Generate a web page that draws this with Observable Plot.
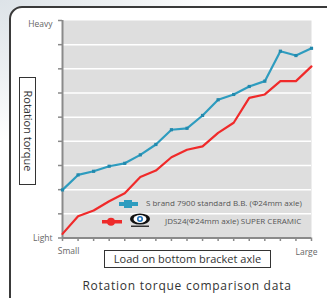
<!DOCTYPE html>
<html><head><meta charset="utf-8">
<script src="https://cdn.jsdelivr.net/npm/d3@7"></script>
<script src="https://cdn.jsdelivr.net/npm/@observablehq/plot@0.6"></script>
<style>
html,body{margin:0;padding:0;}
body{width:327px;height:298px;overflow:hidden;font-family:"Open Sans",sans-serif;}
#wrap{position:relative;width:327px;height:298px;background:radial-gradient(ellipse 220px 140px at 0px 0px,#dde3e8 0%,#eef1f3 55%,#ffffff 100%);}
#frame{position:absolute;left:9px;top:6px;width:330px;height:300px;border:2px solid #3a3a3a;border-top-left-radius:13px;background:#fff;box-sizing:border-box;}
#chart{position:absolute;left:0;top:0;}
.box{position:absolute;border:1px solid #333;background:#fff;color:#333;box-sizing:border-box;font-size:11px;white-space:nowrap;}
#ybox{left:19px;top:77px;width:17px;height:108px;}
#ybox span{position:absolute;left:50%;top:50%;transform:translate(-50%,-50%) rotate(90deg);}
#xbox{left:104px;top:250px;width:167px;height:18px;text-align:center;line-height:16px;}
#title{position:absolute;left:0;width:374px;top:277px;text-align:center;font-size:12px;color:#333;letter-spacing:0.75px;}
.leg{position:absolute;font-size:8px;color:#555;white-space:nowrap;}
</style></head>
<body>
<div id="wrap">
  <div id="frame"></div>
  <div id="chart"></div>
  <div class="box" id="ybox"><span>Rotation torque</span></div>
  <div class="box" id="xbox">Load on bottom bracket axle</div>
  <div id="title">Rotation torque comparison data</div>
  <svg style="position:absolute;left:100px;top:197px" width="60" height="32">
    <rect x="19" y="5" width="19" height="4" fill="#2e9cbf"/>
    <rect x="24" y="3" width="8" height="8" fill="#2e9cbf"/>
    <rect x="2" y="23" width="20" height="3.5" fill="#ee2b2b"/>
    <circle cx="11" cy="24.7" r="4" fill="#ee2b2b"/>
    <ellipse cx="40" cy="22" rx="10" ry="5.5" fill="#111"/>
    <ellipse cx="40" cy="22" rx="6.5" ry="4" fill="#fff"/>
    <circle cx="40" cy="22" r="3" fill="#1d6fb8"/>
    <circle cx="40" cy="22" r="1.4" fill="#fff"/>
    <rect x="31" y="28.5" width="18" height="1.5" fill="#333"/>
  </svg>
  <div class="leg" style="left:146px;top:197px">S brand 7900 standard B.B. (Φ24mm axle)</div>
  <div class="leg" style="left:165px;top:215px">JDS24(Φ24mm axle) SUPER CERAMIC</div>
</div>
<script>
const loads = [0,1,2,3,4,5,6,7,8,9,10,11,12,13,14,15,16];
const sBrand = [1.99,2.61,2.76,2.97,3.09,3.44,3.87,4.48,4.54,5.07,5.72,5.94,6.27,6.49,7.73,7.55,7.85];
const jds24 = [0.17,0.90,1.14,1.52,1.85,2.52,2.79,3.34,3.65,3.79,4.35,4.77,5.80,5.94,6.49,6.49,7.10];
const yTicks = [0,1,2,3,4,5,6,7,8,9];
const yLabels = ["Light","Heavy"];
const xLabels = ["Small","Large"];

const blueData = loads.map((x,i)=>({x, y:sBrand[i]}));
const redData = loads.map((x,i)=>({x, y:jds24[i]}));
const lab = {fill:"#666", fontSize:8.5};

const chart = Plot.plot({
  width:327, height:298,
  marginLeft:62, marginRight:16, marginTop:20, marginBottom:60.5,
  style:{background:"transparent", fontFamily:"Open Sans, sans-serif"},
  x:{domain:[0,16], label:null},
  y:{domain:[0,9], label:null},
  marks:[
    Plot.frame({fill:"#dedede", stroke:null}),
    Plot.gridY(yTicks.slice(1,9), {stroke:"#fff", strokeOpacity:1, strokeWidth:1.5}),
    Plot.axisY({ticks:yTicks, tickSize:4, tickFormat:()=>"", label:null, stroke:"#8a8a8a", strokeWidth:1.5}),
    Plot.axisX({ticks:loads, tickSize:3.5, tickFormat:()=>"", label:null, stroke:"#8a8a8a", strokeWidth:1.5}),
    Plot.ruleX([0], {stroke:"#8a8a8a", strokeWidth:2}),
    Plot.ruleY([0], {stroke:"#8a8a8a", strokeWidth:2}),
    Plot.text([yLabels[1]], {x:0, y:9, text:d=>d, textAnchor:"end", dx:-10, dy:4, ...lab}),
    Plot.text([yLabels[0]], {x:0, y:0, text:d=>d, textAnchor:"end", dx:-10, dy:0, ...lab}),
    Plot.text([xLabels[0]], {x:0, y:0, text:d=>d, dx:6, dy:13, ...lab}),
    Plot.text([xLabels[1]], {x:16, y:0, text:d=>d, dx:-5, dy:14, ...lab}),
    Plot.line(redData, {x:"x", y:"y", stroke:"#f02a2a", strokeWidth:2.2}),
    Plot.line(blueData, {x:"x", y:"y", stroke:"#2e9cbf", strokeWidth:2.2}),
    Plot.dot(blueData, {x:"x", y:"y", symbol:"square", r:1.8, fill:"#2289ad", stroke:null})
  ]
});
document.getElementById("chart").appendChild(chart);
</script>
</body></html>
